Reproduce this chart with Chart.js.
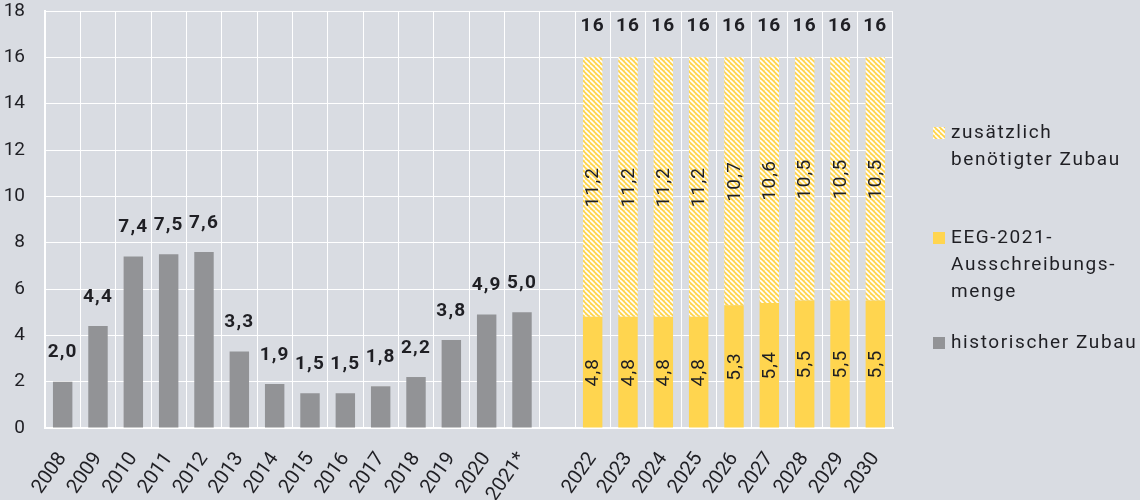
<!DOCTYPE html>
<html>
<head>
<meta charset="utf-8">
<script src="https://cdn.jsdelivr.net/npm/chart.js@4.4.1/dist/chart.umd.min.js"></script>
<style>
  body { margin: 0; background: #d9dce2; }
  #wrap { width: 1140px; height: 500px; }
</style>
</head>
<body>
<div id="wrap"><canvas id="zubau"></canvas></div>
<script>
const years = ["2008", "2009", "2010", "2011", "2012", "2013", "2014", "2015", "2016", "2017",
  "2018", "2019", "2020", "2021*", "", "2022", "2023", "2024", "2025", "2026", "2027", "2028", "2029", "2030"];
const historisch = [2.0, 4.4, 7.4, 7.5, 7.6, 3.3, 1.9, 1.5, 1.5, 1.8, 2.2, 3.8, 4.9, 5.0,
  null, null, null, null, null, null, null, null, null, null];
const ausschreibung = [null, null, null, null, null, null, null, null, null, null, null, null, null, null,
  null, 4.8, 4.8, 4.8, 4.8, 5.3, 5.4, 5.5, 5.5, 5.5];
const zusaetzlich = [null, null, null, null, null, null, null, null, null, null, null, null, null, null,
  null, 11.2, 11.2, 11.2, 11.2, 10.7, 10.6, 10.5, 10.5, 10.5];
const legendLines = [
  ["zusätzlich", "benötigter Zubau"],
  ["EEG-2021-", "Ausschreibungs-", "menge"],
  ["historischer Zubau"]
];

const GRAY = "#929396";
const YELLOW = "#ffd54f";
const TEXT = "#1f1f24";
const FONT = "Roboto";

// diagonal hatch for the additional demand
function hatch() {
  const c = document.createElement("canvas");
  c.width = 5; c.height = 5;
  const g = c.getContext("2d");
  g.fillStyle = YELLOW;
  g.fillRect(0, 0, 5, 5);
  g.strokeStyle = "#ffffff";
  g.lineWidth = 1.6;
  for (let k = -5; k <= 5; k += 5) {
    g.beginPath();
    g.moveTo(k, 0);
    g.lineTo(k + 5, 5);
    g.stroke();
  }
  return g.createPattern(c, "repeat");
}
const hatchFill = hatch();

const fmt = v => v.toFixed(1).replace(".", ",");

const labelPlugin = {
  id: "labels",
  afterDatasetsDraw(chart) {
    const ctx = chart.ctx;
    ctx.save();
    ctx.fillStyle = TEXT;
    ctx.textBaseline = "middle";
    ctx.textAlign = "center";
    ctx.letterSpacing = "1.2px";
    chart.data.datasets.forEach((ds, di) => {
      const meta = chart.getDatasetMeta(di);
      meta.data.forEach((el, i) => {
        const v = ds.data[i];
        if (v == null) return;
        if (di === 0) {
          ctx.font = "bold 19px " + FONT;
          ctx.fillText(fmt(v), el.x, el.y - 29);
        } else {
          ctx.font = "19px " + FONT;
          ctx.save();
          ctx.translate(el.x, (el.y + el.base) / 2);
          ctx.rotate(-Math.PI / 2);
          ctx.fillText(fmt(v), 0, 1);
          ctx.restore();
          if (di === 2) {
            const total = ausschreibung[i] + zusaetzlich[i];
            ctx.font = "bold 19px " + FONT;
            ctx.fillText(Math.round(total).toString(), el.x, el.y - 31);
          }
        }
      });
    });
    ctx.restore();
  }
};

const legendPlugin = {
  id: "sideLegend",
  afterDraw(chart) {
    const ctx = chart.ctx;
    const fills = [hatchFill, YELLOW, GRAY];
    const tops = [133, 238, 343];
    ctx.save();
    ctx.font = "19px " + FONT;
    ctx.letterSpacing = "1.6px";
    ctx.textBaseline = "middle";
    ctx.textAlign = "left";
    legendLines.forEach((lines, k) => {
      ctx.fillStyle = fills[k];
      ctx.fillRect(933, tops[k] - 6, 12, 12);
      ctx.fillStyle = TEXT;
      lines.forEach((t, j) => ctx.fillText(t, 951, tops[k] + j * 27));
    });
    ctx.restore();
  }
};

new Chart("zubau", {
  type: "bar",
  data: {
    labels: years,
    datasets: [
      { label: "historischer Zubau", data: historisch, backgroundColor: GRAY },
      { label: "EEG-2021-Ausschreibungsmenge", data: ausschreibung, backgroundColor: YELLOW },
      { label: "zusätzlich benötigter Zubau", data: zusaetzlich, backgroundColor: hatchFill }
    ]
  },
  options: {
    responsive: true,
    maintainAspectRatio: false,
    animation: false,
    datasets: { bar: { barPercentage: 0.55, categoryPercentage: 1, skipNull: true } },
    layout: { padding: { top: 11, right: 247, left: 0, bottom: 0 } },
    plugins: { legend: { display: false }, tooltip: { enabled: false } },
    scales: {
      x: {
        stacked: true,
        grid: { color: "#ffffff", lineWidth: 1, drawTicks: false, offset: true },
        border: { color: "#ffffff", width: 2 },
        ticks: {
          autoSkip: false, minRotation: 55, maxRotation: 55, padding: 20,
          color: TEXT, font: { family: FONT, size: 20 }
        },
        afterFit(s) { s.height = 72; }
      },
      y: {
        stacked: true,
        min: 0, max: 18,
        grid: { color: "#ffffff", lineWidth: 1, drawTicks: false },
        border: { color: "#ffffff", width: 2 },
        ticks: { stepSize: 2, padding: 20, color: TEXT, font: { family: FONT, size: 19 } },
        afterFit(s) { s.width = 45; s.paddingTop = 0; s.paddingBottom = 0; }
      }
    }
  },
  plugins: [labelPlugin, legendPlugin]
});
</script>
</body>
</html>
